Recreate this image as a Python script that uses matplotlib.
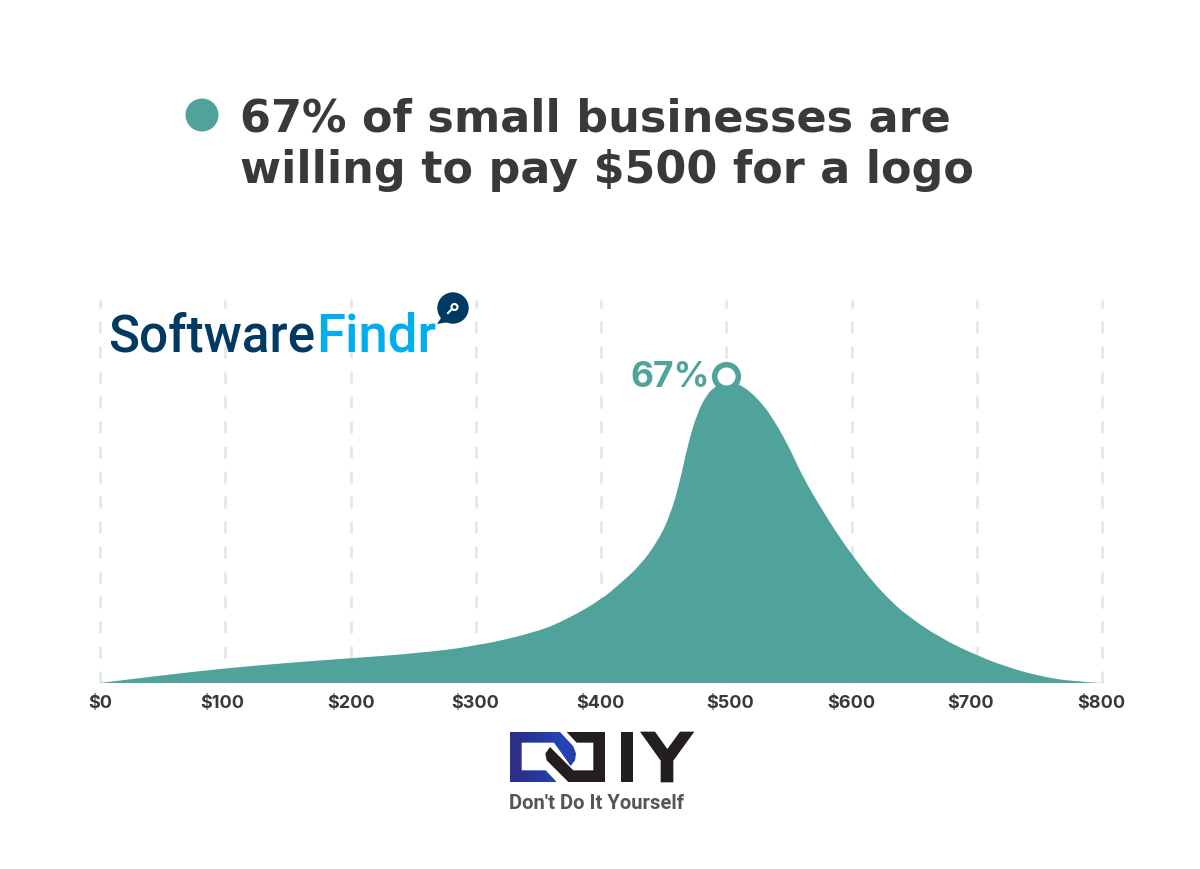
import matplotlib
matplotlib.use("Agg")
import matplotlib.pyplot as plt
import numpy as np
from matplotlib.patches import Circle, Polygon, PathPatch
from matplotlib.path import Path
from matplotlib.transforms import ScaledTranslation

# ---- data ----
price = [0, 50, 100, 150, 200, 250, 300, 350, 375, 400, 415, 431, 445, 455, 463, 469, 477, 485,
         490, 495, 500, 507, 514, 521, 528, 535, 549, 561, 575, 588, 603, 617, 631, 644, 671,
         700, 724, 750, 777, 800]
share = [0, 1.7, 3.2, 4.4, 5.4, 6.4, 8.0, 11.2, 14.2, 18.2, 21.6, 25.6, 30.8, 36.4, 43.9, 51.7, 59.1, 63.1,
         64.4, 65.3, 65.7, 65.5, 64.6, 63.1, 61.1, 58.7, 52.2, 45.0, 38.5, 32.8, 27.0, 22.1, 18.0, 14.8, 9.8,
         6.0, 3.5, 1.5, 0.3, 0]
tick_values = [0, 100, 200, 300, 400, 500, 600, 700, 800]
tick_labels = ["$0", "$100", "$200", "$300", "$400", "$500", "$600", "$700", "$800"]
peak_price = 500
peak_share = 67
peak_label = "67%"
title_lines = ["67% of small businesses are", "willing to pay $500 for a logo"]

TEAL = "#50a39b"
DARK = "#3a3839"
GRID = "#e8e8e8"
W, H = 1200, 870
BOLD = "Inter"
label_shift_px = [0, -3, 1, -1, -1, 4, 0, -6, -1]

fig = plt.figure(figsize=(W / 100, H / 100), dpi=100, facecolor="white")

# main plot area, pixel box x 100..1102, y 300..684
ax = fig.add_axes([100 / W, 1 - 684 / H, 1002 / W, 384 / H])
ax.set_xlim(0, 800)
ax.set_ylim(0, 384 / 4.582)
ax.patch.set_alpha(0)
for s in ax.spines.values():
    s.set_visible(False)
ax.set_yticks([])
ax.set_xticks(tick_values)
ax.set_xticklabels(tick_labels, fontsize=13, fontweight="bold", color=DARK, family=BOLD)
ax.tick_params(axis="x", length=0, pad=8)
for lab, dx in zip(ax.get_xticklabels(), label_shift_px):
    lab.set_transform(lab.get_transform() + ScaledTranslation(dx / 100, 0, fig.dpi_scale_trans))
for v in tick_values:
    ax.axvline(v, color=GRID, lw=2.16, ls=(0, (4, 4.33)), zorder=1, clip_on=False, dash_capstyle="butt")

# smooth filled curve: the read points act as quadratic control points
pts = np.column_stack([price, share])
mids = (pts[1:-2] + pts[2:-1]) / 2
verts = [pts[0]]
codes = [Path.MOVETO]
for ctrl, end in zip(pts[1:-2], mids):
    verts += [ctrl, end]
    codes += [Path.CURVE3, Path.CURVE3]
verts += [pts[-2], pts[-1], pts[0]]
codes += [Path.CURVE3, Path.CURVE3, Path.LINETO]
ax.add_patch(PathPatch(Path(np.array(verts), codes), fc=TEAL, lw=0, zorder=2))

ax.plot([peak_price], [peak_share], "o", ms=17, mew=4, mfc="white", mec=TEAL, zorder=3, clip_on=False)
ax.annotate(peak_label, (peak_price, peak_share), xytext=(-12, 0), textcoords="offset points",
            ha="right", va="center", fontsize=25.5, fontweight="bold", color=TEAL, family=BOLD, zorder=4)

# overlay in pixel coordinates for title and logos
ov = fig.add_axes([0, 0, 1, 1], zorder=5)
ov.patch.set_alpha(0)
ov.axis("off")

def z(pts_, x0=490, y0=720):
    return [(x0 + a / 3, y0 + b / 3) for a, b in pts_]

# blue gradient for the D of the DOIY logo
blue_poly = Polygon(z([(15, 15), (165, 15), (205, 58), (213, 80), (210, 100), (197, 117), (147, 47),
                       (50, 47), (50, 130), (122, 130), (155, 165), (15, 165)], 505, 728),
                    closed=True, fc="none", lw=0, transform=ov.transData)
ov.add_patch(blue_poly)
grad = np.array([[0.0, 0.15, 0.35, 0.55, 0.8, 1.0, 0.7]])
im = ov.imshow(grad, extent=(510, 577, 783, 733), aspect="auto", interpolation="bilinear",
               cmap=matplotlib.colors.LinearSegmentedColormap.from_list("b", ["#2b2f85", "#2346b8"]))
im.set_clip_path(blue_poly)
ov.set_xlim(0, W)
ov.set_ylim(H, 0)

ov.add_patch(Circle((202, 116), 16.5, color=TEAL, lw=0))
ov.text(240, 132, title_lines[0], fontsize=32, fontweight="bold", color=DARK, family="DejaVu Sans", va="baseline")
ov.text(240, 183, title_lines[1], fontsize=32, fontweight="bold", color=DARK, family="DejaVu Sans", va="baseline")

# SoftwareFindr logo
NAVY = "#003a63"
SKY = "#00aeef"
ov.text(108, 352, "Software", fontsize=37, fontweight=500, color=NAVY, family="Roboto", va="baseline")
ov.text(316, 352, "Findr", fontsize=38, fontweight=500, color=SKY, family="Roboto", va="baseline")
ov.add_patch(Circle((453, 309), 15.7, color=NAVY, lw=0))
ov.add_patch(Polygon([(437, 325), (443, 316), (449, 323)], closed=True, color=NAVY, lw=0))
ov.add_patch(Circle((454.5, 308), 3, fc="none", ec="white", lw=1.5))
ov.plot([448, 452], [314, 310], color="white", lw=1.5)

# DOIY logo, black parts
BLACK = "#231f20"
ov.add_patch(Polygon(z([(185, 15), (300, 15), (300, 165), (190, 165), (125, 100), (121, 80), (135, 60),
                        (205, 130), (265, 130), (265, 47), (215, 47)], 505, 728),
                     closed=True, color=BLACK, lw=0))
ov.add_patch(Polygon(z([(392, 38), (430, 38), (430, 190), (392, 190)]), closed=True, color=BLACK, lw=0))
ov.add_patch(Polygon(z([(450, 38), (495, 38), (532, 90), (570, 38), (613, 38), (550, 125), (550, 190),
                        (512, 190), (512, 125)]), closed=True, color=BLACK, lw=0))
ov.text(509, 809, "Don't Do It Yourself", fontsize=14.6, fontweight="bold", color="#555555",
        family="Roboto", va="baseline")

fig.savefig("out.png", dpi=100, facecolor="white")
